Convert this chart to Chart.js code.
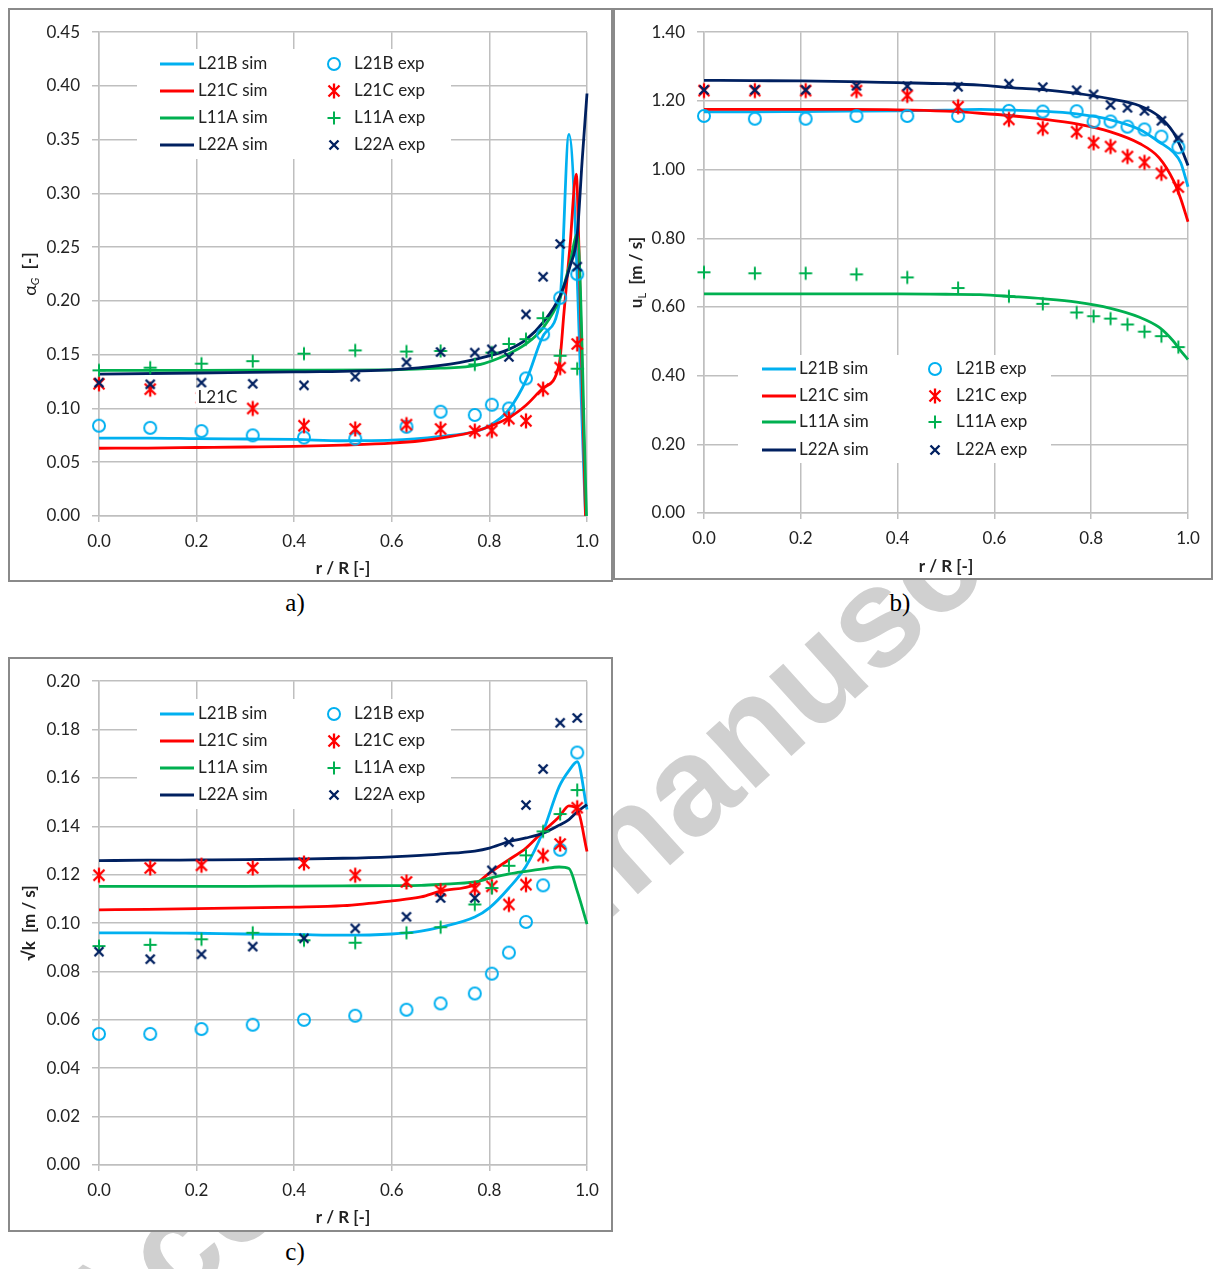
<!DOCTYPE html>
<html>
<head>
<meta charset="utf-8">
<script src="https://cdn.jsdelivr.net/npm/chart.js@4.4.1/dist/chart.umd.min.js"></script>
<style>
  body { margin: 0; background: #fff; width: 1215px; height: 1269px; position: relative; overflow: hidden; }
  .box { position: absolute; border: 2px solid #8a8a8a; box-sizing: border-box; background: #fff; z-index: 1; }
  .box canvas { position: absolute; left: 0; top: 0; }
  .cap { position: absolute; font-family: "Liberation Serif", serif; font-size: 25px; color: #000; transform: translate(-50%, -50%); z-index: 2; }
  .wm { position: absolute; left: 22px; top: 1290px; transform: rotate(-42deg); transform-origin: 0 0;
        font: bold 140px "Liberation Sans", sans-serif; line-height: 1; color: #d0d0d0; white-space: nowrap; z-index: 0; }
</style>
</head>
<body>
<div class="wm">Accepted manuscript</div>

<div class="box" style="left:8px; top:8px; width:605px; height:574px;"><canvas id="chartA" width="601" height="570"></canvas></div>
<div class="box" style="left:613px; top:8px; width:600px; height:572px;"><canvas id="chartB" width="596" height="568"></canvas></div>
<div class="box" style="left:8px; top:657px; width:605px; height:575px;"><canvas id="chartC" width="601" height="571"></canvas></div>

<div class="cap" style="left:295px; top:603px;">a)</div>
<div class="cap" style="left:900px; top:603px;">b)</div>
<div class="cap" style="left:295px; top:1252px;">c)</div>

<script>
// series names en kleuren
const seriesNames = ["L21B", "L21C", "L11A", "L22A"];
const simColors = ["#00B0F0", "#FF0000", "#00B050", "#002060"];

// radiale posities van de metingen (r/R)
const expR = [0, 0.105, 0.21, 0.315, 0.42, 0.525, 0.63, 0.70, 0.77, 0.805, 0.84, 0.875, 0.91, 0.945, 0.98];

// a) gas holdup alpha_G - metingen
const aExpL21B = [0.084, 0.082, 0.079, 0.075, 0.073, 0.072, 0.083, 0.097, 0.094, 0.1035, 0.100, 0.128, 0.169, 0.203, 0.225];
const aExpL21C = [0.123, 0.118, 0.110, 0.100, 0.084, 0.081, 0.085, 0.081, 0.079, 0.0795, 0.0905, 0.0885, 0.118, 0.138, 0.160];
const aExpL11A = [0.1355, 0.138, 0.1417, 0.144, 0.151, 0.154, 0.153, 0.1535, 0.141, 0.152, 0.160, 0.1645, 0.184, 0.149, 0.137];
const aExpL22A = [0.124, 0.1225, 0.124, 0.123, 0.1215, 0.1295, 0.143, 0.1525, 0.152, 0.155, 0.148, 0.1875, 0.2225, 0.253, 0.232];

// a) simulaties (elk een eigen r-rooster)
const aSimRL21B = [0, 0.1, 0.2, 0.3, 0.4, 0.5, 0.6, 0.7, 0.77, 0.8, 0.84, 0.877, 0.912, 0.945, 0.963, 0.997];
const aSimL21B  = [0.0725, 0.0725, 0.072, 0.0716, 0.0712, 0.070, 0.0705, 0.074, 0.0786, 0.084, 0.099, 0.128, 0.169, 0.203, 0.355, 0.0];
const aSimRL21C = [0, 0.1, 0.2, 0.3, 0.4, 0.5, 0.6, 0.66, 0.7, 0.77, 0.84, 0.875, 0.91, 0.943, 0.953, 0.965, 0.978, 0.984, 0.997];
const aSimL21C  = [0.063, 0.0632, 0.0637, 0.0642, 0.0648, 0.066, 0.0678, 0.070, 0.0725, 0.0786, 0.0915, 0.103, 0.119, 0.141, 0.19, 0.25, 0.318, 0.24, 0.0];
const aSimRL11A = [0, 0.2, 0.4, 0.6, 0.7, 0.773, 0.84, 0.875, 0.91, 0.945, 0.965, 0.98, 0.999];
const aSimL11A  = [0.1355, 0.1355, 0.1357, 0.136, 0.1375, 0.140, 0.151, 0.16, 0.175, 0.203, 0.235, 0.262, 0.0];
const aSimRL22A = [0, 0.2, 0.4, 0.6, 0.7, 0.773, 0.84, 0.875, 0.91, 0.945, 0.965, 0.98, 0.99, 1.0];
const aSimL22A  = [0.132, 0.133, 0.134, 0.136, 0.140, 0.146, 0.155, 0.164, 0.18, 0.205, 0.232, 0.262, 0.33, 0.393];

// b) vloeistofsnelheid u_L
const bExpL21B = [1.156, 1.148, 1.148, 1.156, 1.156, 1.156, 1.171, 1.169, 1.170, 1.140, 1.140, 1.125, 1.117, 1.096, 1.065];
const bExpL21C = [1.230, 1.230, 1.230, 1.230, 1.216, 1.183, 1.146, 1.120, 1.110, 1.078, 1.067, 1.038, 1.021, 0.989, 0.949];
const bExpL11A = [0.701, 0.698, 0.698, 0.695, 0.686, 0.655, 0.631, 0.609, 0.584, 0.573, 0.566, 0.549, 0.528, 0.515, 0.483];
const bExpL22A = [1.232, 1.232, 1.232, 1.244, 1.243, 1.241, 1.250, 1.240, 1.231, 1.219, 1.188, 1.180, 1.171, 1.142, 1.093];

const bSimR    = [0, 0.1, 0.2, 0.3, 0.4, 0.5, 0.57, 0.64, 0.7, 0.77, 0.84, 0.9, 0.94, 0.97, 0.985, 1.0];
const bSimL21B = [1.168, 1.168, 1.169, 1.170, 1.171, 1.173, 1.175, 1.173, 1.170, 1.162, 1.145, 1.117, 1.081, 1.05, 1.02, 0.95];
const bSimL21C = [1.175, 1.175, 1.175, 1.175, 1.174, 1.170, 1.164, 1.156, 1.147, 1.133, 1.110, 1.076, 1.035, 0.968, 0.915, 0.848];
const bSimL11A = [0.638, 0.638, 0.638, 0.638, 0.638, 0.637, 0.636, 0.630, 0.624, 0.614, 0.596, 0.570, 0.541, 0.50, 0.472, 0.447];
const bSimL22A = [1.260, 1.259, 1.258, 1.256, 1.253, 1.250, 1.246, 1.238, 1.233, 1.222, 1.206, 1.186, 1.155, 1.108, 1.065, 1.012];

// c) sqrt(k)
const cExpL21B = [0.0542, 0.0542, 0.0562, 0.058, 0.060, 0.0617, 0.0642, 0.0668, 0.0709, 0.0791, 0.0878, 0.1005, 0.1156, 0.1303, 0.1705];
const cExpL21C = [0.1198, 0.1228, 0.1239, 0.1228, 0.1248, 0.1198, 0.117, 0.1134, 0.1143, 0.1152, 0.1077, 0.1159, 0.1279, 0.1327, 0.1477];
const cExpL11A = [0.0905, 0.091, 0.0933, 0.096, 0.0929, 0.0919, 0.096, 0.0983, 0.1077, 0.1145, 0.1237, 0.128, 0.1379, 0.1451, 0.155];
const cExpL22A = [0.0882, 0.0851, 0.0871, 0.0903, 0.0937, 0.0978, 0.1026, 0.1104, 0.1104, 0.1218, 0.1335, 0.1488, 0.1637, 0.1828, 0.1848];

const cSimR    = [0, 0.1, 0.2, 0.3, 0.4, 0.5, 0.6, 0.66, 0.7, 0.77, 0.8, 0.84, 0.875, 0.91, 0.943, 0.963, 0.98, 1.0];
const cSimL21B = [0.096, 0.096, 0.0958, 0.0955, 0.0953, 0.095, 0.0955, 0.0967, 0.0983, 0.1025, 0.1063, 0.1145, 0.1235, 0.1379, 0.1564, 0.163, 0.1667, 0.147];
const cSimL21C = [0.1055, 0.1057, 0.106, 0.1063, 0.1066, 0.1072, 0.1092, 0.1108, 0.1132, 0.116, 0.1207, 0.1262, 0.131, 0.1379, 0.144, 0.1485, 0.1472, 0.1296];
const cSimL11A = [0.1152, 0.1152, 0.1152, 0.1152, 0.1153, 0.1154, 0.1155, 0.1156, 0.116, 0.117, 0.1185, 0.1203, 0.1214, 0.1224, 0.1232, 0.1226, 0.1132, 0.0996];
const cSimL22A = [0.1258, 0.126, 0.1261, 0.1262, 0.1265, 0.1268, 0.1274, 0.128, 0.1286, 0.1298, 0.131, 0.1337, 0.1352, 0.1372, 0.1405, 0.1428, 0.146, 0.149];

const textColor = "#222";
const gridColor = "#bfbfbf";

// marker plaatjes, zelf getekend
function makeMarker(kind, color) {
    const c = document.createElement("canvas");
    c.width = 18; c.height = 18;
    const g = c.getContext("2d");
    const m = 9;
    g.strokeStyle = color;
    g.beginPath();
    if (kind === "circle") {
        g.lineWidth = 2;
        g.arc(m, m, 6, 0, Math.PI * 2);
    } else if (kind === "star") {
        g.lineWidth = 2.3;
        g.moveTo(m - 5.5, m - 5.5); g.lineTo(m + 5.5, m + 5.5);
        g.moveTo(m + 5.5, m - 5.5); g.lineTo(m - 5.5, m + 5.5);
        g.moveTo(m, m - 7.5); g.lineTo(m, m + 7.5);
    } else if (kind === "plus") {
        g.lineWidth = 2;
        g.moveTo(m - 6.5, m); g.lineTo(m + 6.5, m);
        g.moveTo(m, m - 6.5); g.lineTo(m, m + 6.5);
    } else {
        g.lineWidth = 2.4;
        g.moveTo(m - 4.5, m - 4.5); g.lineTo(m + 4.5, m + 4.5);
        g.moveTo(m + 4.5, m - 4.5); g.lineTo(m - 4.5, m + 4.5);
    }
    g.stroke();
    return c;
}
const markers = [
    makeMarker("circle", "#00B0F0"),
    makeMarker("star", "#FF0000"),
    makeMarker("plus", "#00B050"),
    makeMarker("x", "#002060")
];

// legenda, astitels en losse label
const decoPlugin = {
    id: "deco",
    afterDraw(chart, args, opts) {
        const ctx = chart.ctx;
        const area = chart.chartArea;
        ctx.save();

        const lg = opts.legend;
        ctx.fillStyle = "#fff";
        ctx.fillRect(lg.x0, lg.y0, lg.x1 - lg.x0, lg.y1 - lg.y0);
        ctx.font = "17px Lato";
        ctx.textBaseline = "middle";
        ctx.textAlign = "left";
        for (let i = 0; i < seriesNames.length; i++) {
            const y = lg.rows[i];
            ctx.strokeStyle = simColors[i];
            ctx.lineWidth = 3;
            ctx.beginPath();
            ctx.moveTo(lg.lineX0, y);
            ctx.lineTo(lg.lineX1, y);
            ctx.stroke();
            ctx.fillStyle = textColor;
            ctx.fillText(seriesNames[i] + " sim", lg.textX1, y);
            const img = markers[i];
            ctx.drawImage(img, lg.markX - img.width / 2, y - img.height / 2);
            ctx.fillText(seriesNames[i] + " exp", lg.textX2, y);
        }

        // x-titel
        ctx.fillStyle = textColor;
        ctx.font = "bold 17px Lato";
        ctx.textAlign = "center";
        ctx.fillText("r / R [-]", (area.left + area.right) / 2, area.bottom + opts.xTitleGap);

        // y-titel met subscript
        const parts = opts.yTitle;
        let total = 0;
        parts.forEach(p => { ctx.font = p.f; p.w = ctx.measureText(p.t).width; total += p.w; });
        ctx.translate(opts.yTitleX, (area.top + area.bottom) / 2);
        ctx.rotate(-Math.PI / 2);
        ctx.textAlign = "left";
        let pos = -total / 2;
        parts.forEach(p => {
            ctx.font = p.f;
            ctx.fillText(p.t, pos, p.dy || 0);
            pos += p.w;
        });
        ctx.restore();

        if (opts.note) {
            const n = opts.note;
            const x = chart.scales.x.getPixelForValue(n.r);
            const y = chart.scales.y.getPixelForValue(n.v);
            ctx.save();
            ctx.font = "17px Lato";
            const w = ctx.measureText(n.text).width;
            ctx.fillStyle = "#fff";
            ctx.fillRect(x - 1, y - 10, w + 4, 20);
            ctx.fillStyle = textColor;
            ctx.textBaseline = "middle";
            ctx.fillText(n.text, x + 1, y);
            ctx.restore();
        }
    }
};

const pts = (xs, ys) => xs.map((x, i) => ({ x: x, y: ys[i] }));

function simSet(i, xs, ys) {
    return {
        label: seriesNames[i] + " sim",
        data: pts(xs, ys),
        showLine: true,
        borderColor: simColors[i],
        borderWidth: 2.8,
        pointRadius: 0,
        cubicInterpolationMode: "monotone",
        clip: false,
        order: 10 - i
    };
}
function expSet(i, ys) {
    return {
        label: seriesNames[i] + " exp",
        data: pts(expR, ys),
        showLine: false,
        pointStyle: markers[i],
        pointRadius: 6,
        clip: false,
        order: 4 - i
    };
}

function makeChart(id, cfg) {
    const ctx = document.getElementById(id).getContext("2d");
    new Chart(ctx, {
        type: "scatter",
        data: { datasets: cfg.datasets },
        options: {
            responsive: false,
            animation: false,
            events: [],
            layout: { padding: { left: 0, top: cfg.padTop, right: cfg.padRight, bottom: 0 } },
            plugins: { legend: { display: false }, tooltip: { enabled: false }, deco: cfg.deco },
            scales: {
                x: {
                    type: "linear", min: 0, max: 1,
                    afterFit: s => { s.height = cfg.xAxisHeight; },
                    ticks: { stepSize: 0.2, padding: 9, color: textColor, font: { family: "Lato", size: 17 },
                             callback: v => v.toFixed(1) },
                    grid: { color: gridColor, lineWidth: 1.5, tickLength: 6 },
                    border: { color: gridColor, width: 1.5 }
                },
                y: {
                    type: "linear", min: 0, max: cfg.yMax,
                    afterFit: s => { s.width = cfg.yAxisWidth; },
                    ticks: { stepSize: cfg.yStep, padding: 12, color: textColor, font: { family: "Lato", size: 17 },
                             callback: v => v.toFixed(2) },
                    grid: { color: gridColor, lineWidth: 1.5, tickLength: 7 },
                    border: { color: gridColor, width: 1.5 }
                }
            }
        },
        plugins: [decoPlugin]
    });
}

const legendA = { x0: 127, y0: 39, x1: 441, y1: 149, rows: [54, 81, 108, 135],
                  lineX0: 150, lineX1: 184, textX1: 188, markX: 324, textX2: 344 };
const legendC = { x0: 127, y0: 40, x1: 441, y1: 150, rows: [55, 82, 109, 136],
                  lineX0: 150, lineX1: 184, textX1: 188, markX: 324, textX2: 344 };
const legendB = { x0: 123, y0: 345, x1: 436, y1: 453, rows: [359, 386, 412, 440],
                  lineX0: 147, lineX1: 181, textX1: 184, markX: 320, textX2: 341 };

// a)
makeChart("chartA", {
    yMax: 0.45, yStep: 0.05, padTop: 19, padRight: 24, yAxisWidth: 89, xAxisHeight: 64,
    datasets: [
        expSet(0, aExpL21B), expSet(1, aExpL21C), expSet(2, aExpL11A), expSet(3, aExpL22A),
        simSet(0, aSimRL21B, aSimL21B), simSet(1, aSimRL21C, aSimL21C),
        simSet(2, aSimRL11A, aSimL11A), simSet(3, aSimRL22A, aSimL22A)
    ],
    deco: {
        legend: legendA, xTitleGap: 53, yTitleX: 20,
        yTitle: [ { t: "\u03B1", f: "18px Lato" }, { t: "G", f: "italic 11px Lato", dy: 5 }, { t: "  [-]", f: "bold 17px Lato" } ],
        note: { r: 0.2, v: 0.110, text: "L21C" }
    }
});

// b)
makeChart("chartB", {
    yMax: 1.4, yStep: 0.2, padTop: 19, padRight: 23, yAxisWidth: 89, xAxisHeight: 65,
    datasets: [
        expSet(0, bExpL21B), expSet(1, bExpL21C), expSet(2, bExpL11A), expSet(3, bExpL22A),
        simSet(0, bSimR, bSimL21B), simSet(1, bSimR, bSimL21C),
        simSet(2, bSimR, bSimL11A), simSet(3, bSimR, bSimL22A)
    ],
    deco: {
        legend: legendB, xTitleGap: 54, yTitleX: 22,
        yTitle: [ { t: "u", f: "bold 17px Lato" }, { t: "L", f: "11px Lato", dy: 5 }, { t: "  [m / s]", f: "bold 17px Lato" } ]
    }
});

// c)
makeChart("chartC", {
    yMax: 0.2, yStep: 0.02, padTop: 20, padRight: 24, yAxisWidth: 89, xAxisHeight: 65,
    datasets: [
        expSet(0, cExpL21B), expSet(1, cExpL21C), expSet(2, cExpL11A), expSet(3, cExpL22A),
        simSet(0, cSimR, cSimL21B), simSet(1, cSimR, cSimL21C),
        simSet(2, cSimR, cSimL11A), simSet(3, cSimR, cSimL22A)
    ],
    deco: {
        legend: legendC, xTitleGap: 53, yTitleX: 20,
        yTitle: [ { t: "\u221Ak", f: "bold 17px Lato" }, { t: "  [m / s]", f: "bold 17px Lato" } ]
    }
});
</script>
</body>
</html>
